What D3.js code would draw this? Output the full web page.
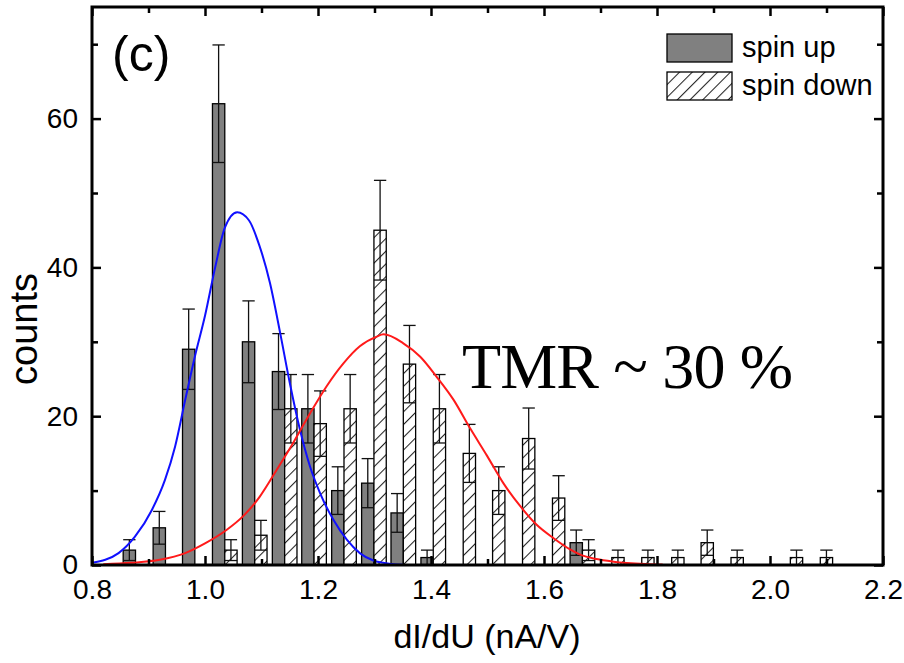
<!DOCTYPE html>
<html>
<head>
<meta charset="utf-8">
<script src="https://cdn.jsdelivr.net/npm/d3@7"></script>
<style>
  html, body { margin: 0; padding: 0; background: #fff; }
  svg { display: block; }
</style>
</head>
<body>
<svg id="chart" width="904" height="663"></svg>
<script>
// ---------------- data ----------------
const binCenters = [0.877, 0.930, 0.982, 1.035, 1.088, 1.141, 1.193, 1.246, 1.299, 1.351, 1.404, 1.457,
                    1.509, 1.562, 1.615, 1.668, 1.720, 1.773, 1.826, 1.878, 1.931, 1.984, 2.036, 2.089];
const spinUp      = [2, 5, 29, 62, 30, 26, 21, 10, 11, 7, 1, 0, 0, 0, 0, 3, 0, 0, 0, 0, 0, 0, 0, 0];
const spinUpErr   = [1.4, 2.2, 5.4, 7.9, 5.5, 5.1, 4.6, 3.2, 3.3, 2.6, 1.0, 0, 0, 0, 0, 1.7, 0, 0, 0, 0, 0, 0, 0, 0];
const spinDown    = [0, 0, 0, 2, 4, 21, 19, 21, 45, 27, 21, 15, 10, 17, 9, 2, 1, 1, 1, 3, 1, 0, 1, 1];
const spinDownErr = [0, 0, 0, 1.4, 2.0, 4.6, 4.4, 4.6, 6.7, 5.2, 4.6, 3.9, 3.2, 4.1, 3.0, 1.4, 1.0, 1.0, 1.0, 1.7, 1.0, 0, 1.0, 1.0];

// fit curves
const blueFitX = [0.800, 0.847, 0.876, 0.906, 0.929, 0.947, 0.965, 0.982, 1.000, 1.018, 1.035, 1.057,
                  1.078, 1.096, 1.115, 1.133, 1.150, 1.168, 1.186, 1.204, 1.227, 1.251, 1.274, 1.298, 1.330, 1.350];
const blueFitY = [0.3, 1.6, 3.8, 7.4, 11.4, 15.9, 22.2, 28.0, 33.5, 40.0, 45.3, 47.4,
                  46.3, 43.0, 37.9, 31.2, 24.5, 18.2, 13.2, 9.6, 6.1, 3.4, 1.6, 0.6, 0.15, 0.05];
const redFitX  = [0.820, 0.870, 0.920, 0.965, 1.000, 1.038, 1.068, 1.097, 1.127, 1.156, 1.186, 1.215,
                  1.245, 1.274, 1.304, 1.316, 1.351, 1.381, 1.410, 1.440, 1.469, 1.499, 1.528, 1.558,
                  1.587, 1.617, 1.646, 1.664, 1.693, 1.723, 1.780, 1.810];
const redFitY  = [0.1, 0.3, 0.7, 1.6, 2.9, 4.7, 6.6, 9.2, 12.8, 16.4, 20.4, 24.0,
                  27.1, 29.4, 30.7, 31.0, 29.8, 28.0, 25.3, 22.2, 18.4, 14.7, 11.0, 7.9,
                  5.4, 3.6, 2.1, 1.4, 0.8, 0.45, 0.13, 0.05];

const xMajorTicks = [0.8, 1.0, 1.2, 1.4, 1.6, 1.8, 2.0, 2.2];
const xMinorTicks = [0.9, 1.1, 1.3, 1.5, 1.7, 1.9, 2.1];
const yMajorTicks = [0, 20, 40, 60];
const yMinorTicks = [10, 30, 50, 70];
const legendLabels = ["spin up", "spin down"];

// ---------------- layout ----------------
const svg = d3.select("#chart");
const L = 92, R = 883, T = 7, B = 565;
const x = d3.scaleLinear().domain([0.8, 2.2]).range([L, R]);
const y = d3.scaleLinear().domain([0, 75]).range([B, T]);
const barW = 0.0218; // bar width in data units

const defs = svg.append("defs");
const pat = defs.append("pattern")
  .attr("id", "hatch").attr("patternUnits", "userSpaceOnUse")
  .attr("width", 9).attr("height", 9)
  .attr("patternTransform", "rotate(45)");
pat.append("rect").attr("width", 9).attr("height", 9).attr("fill", "#fff");
pat.append("line").attr("x1", 0.5).attr("y1", 0).attr("x2", 0.5).attr("y2", 9)
  .attr("stroke", "#222").attr("stroke-width", 1.1);
defs.append("clipPath").attr("id", "clip").append("rect")
  .attr("x", L).attr("y", T).attr("width", R - L).attr("height", B - T);

const upData = binCenters.map((c, i) => ({x0: c - barW, x1: c, v: spinUp[i], e: spinUpErr[i]})).filter(d => d.v > 0);
const downData = binCenters.map((c, i) => ({x0: c, x1: c + barW, v: spinDown[i], e: spinDownErr[i]})).filter(d => d.v > 0);

function drawBars(data, fill) {
  svg.append("g").selectAll("rect").data(data).join("rect")
    .attr("x", d => x(d.x0)).attr("width", d => x(d.x1) - x(d.x0))
    .attr("y", d => y(d.v)).attr("height", d => y(0) - y(d.v))
    .attr("fill", fill).attr("stroke", "#000").attr("stroke-width", 1.3);
}
function drawErr(data) {
  const g = svg.append("g").attr("stroke", "#111").attr("stroke-width", 1.3).attr("fill", "none");
  data.forEach(d => {
    const lo = Math.max(0, d.v - d.e), hi = d.v + d.e;
    const xm = (x(d.x0) + x(d.x1)) / 2;
    g.append("line").attr("x1", xm).attr("x2", xm).attr("y1", y(lo)).attr("y2", y(hi));
    g.append("line").attr("x1", x(d.x0)).attr("x2", x(d.x1)).attr("y1", y(hi)).attr("y2", y(hi));
    g.append("line").attr("x1", x(d.x0)).attr("x2", x(d.x1)).attr("y1", y(lo)).attr("y2", y(lo));
  });
}
drawBars(upData, "#808080");
drawBars(downData, "url(#hatch)");
drawErr(upData);
drawErr(downData);

// fit curves
const line = d3.line().x(d => x(d[0])).y(d => y(d[1])).curve(d3.curveMonotoneX);
const cg = svg.append("g").attr("clip-path", "url(#clip)").attr("fill", "none").attr("stroke-width", 2);
cg.append("path").attr("d", line(blueFitX.map((v, i) => [v, blueFitY[i]]))).attr("stroke", "#1010ff");
cg.append("path").attr("d", line(redFitX.map((v, i) => [v, redFitY[i]]))).attr("stroke", "#ff1a1a");

// axes (ticks inward on all sides)
const fontSans = "Liberation Sans, Arial, sans-serif";
const ax = svg.append("g");
ax.append("g").attr("transform", `translate(0,${B})`)
  .call(d3.axisBottom(x).tickValues(xMajorTicks).tickSize(-9).tickPadding(14).tickFormat(d3.format(".1f")))
  .call(g => g.select(".domain").remove());
ax.append("g").attr("transform", `translate(0,${B})`)
  .call(d3.axisBottom(x).tickValues(xMinorTicks).tickSize(-6).tickFormat(""))
  .call(g => g.select(".domain").remove());
ax.append("g").attr("transform", `translate(0,${T})`)
  .call(d3.axisTop(x).tickValues(xMajorTicks).tickSize(-9).tickFormat(""))
  .call(g => g.select(".domain").remove());
ax.append("g").attr("transform", `translate(0,${T})`)
  .call(d3.axisTop(x).tickValues(xMinorTicks).tickSize(-6).tickFormat(""))
  .call(g => g.select(".domain").remove());
ax.append("g").attr("transform", `translate(${L},0)`)
  .call(d3.axisLeft(y).tickValues(yMajorTicks).tickSize(-9).tickPadding(14).tickFormat(d3.format("d")))
  .call(g => g.select(".domain").remove());
ax.append("g").attr("transform", `translate(${L},0)`)
  .call(d3.axisLeft(y).tickValues(yMinorTicks).tickSize(-6).tickFormat(""))
  .call(g => g.select(".domain").remove());
ax.append("g").attr("transform", `translate(${R},0)`)
  .call(d3.axisRight(y).tickValues(yMajorTicks).tickSize(-9).tickFormat(""))
  .call(g => g.select(".domain").remove());
ax.append("g").attr("transform", `translate(${R},0)`)
  .call(d3.axisRight(y).tickValues(yMinorTicks).tickSize(-6).tickFormat(""))
  .call(g => g.select(".domain").remove());
ax.selectAll(".tick line").attr("stroke", "#000").attr("stroke-width", 2.5);
ax.selectAll(".tick text").attr("font-family", fontSans).attr("font-size", 28).attr("fill", "#000");
svg.append("rect").attr("x", L).attr("y", T).attr("width", R - L).attr("height", B - T)
  .attr("fill", "none").attr("stroke", "#000").attr("stroke-width", 3);

// axis titles
svg.append("text").attr("x", 487).attr("y", 648).attr("text-anchor", "middle")
  .attr("font-family", fontSans).attr("font-size", 34).text("dI/dU (nA/V)");
svg.append("text").attr("transform", "translate(37,329) rotate(-90)").attr("text-anchor", "middle")
  .attr("font-family", fontSans).attr("font-size", 38).text("counts");

// panel label
svg.append("text").attr("x", 112).attr("y", 71).attr("font-family", fontSans).attr("font-size", 50).text("(c)");

// annotation
svg.append("text").attr("x", 462).attr("y", 388).attr("font-family", "Liberation Serif, Times New Roman, serif")
  .attr("font-size", 64).attr("textLength", 331).attr("lengthAdjust", "spacing").text("TMR ~ 30 %");

// legend
const lg = svg.append("g");
lg.append("rect").attr("x", 667).attr("y", 34).attr("width", 65).attr("height", 28)
  .attr("fill", "#808080").attr("stroke", "#000").attr("stroke-width", 1.3);
lg.append("rect").attr("x", 667).attr("y", 72).attr("width", 65).attr("height", 28)
  .attr("fill", "url(#hatch)").attr("stroke", "#000").attr("stroke-width", 1.3);
lg.selectAll("text").data(legendLabels).join("text")
  .attr("x", 742).attr("y", (d, i) => 57 + i * 38)
  .attr("font-family", fontSans).attr("font-size", 29).text(d => d);
</script>
</body>
</html>
